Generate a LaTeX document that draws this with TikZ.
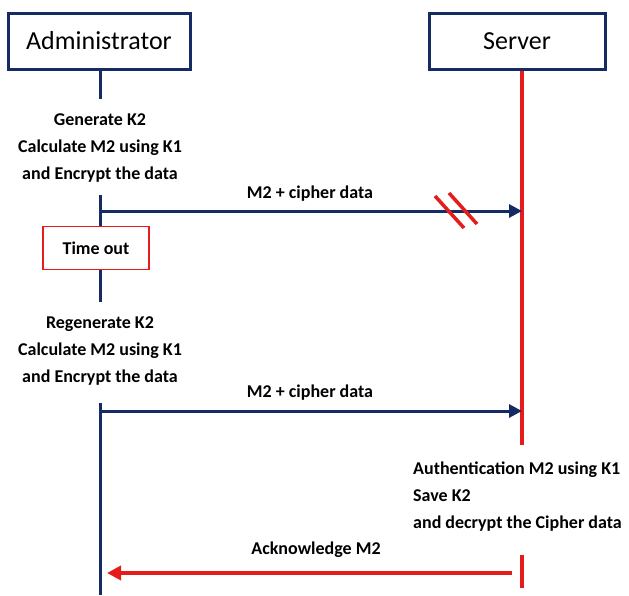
\documentclass[tikz,border=0pt]{standalone}
\usepackage{fontspec}
\setmainfont{Carlito}
\usetikzlibrary{arrows.meta}
\definecolor{navy}{RGB}{22,42,100}
\definecolor{myred}{RGB}{228,28,28}
\begin{document}
\begin{tikzpicture}[x=1pt,y=-1pt,
  actor/.style={draw=navy,line width=3pt,minimum width=#1,minimum height=56pt,inner sep=0pt,font=\fontsize{26}{30}\selectfont},
  note/.style={align=center,font=\bfseries\fontsize{18}{27}\selectfont,inner sep=0pt},
  lnote/.style={align=left,font=\bfseries\fontsize{18}{27}\selectfont,inner sep=0pt,anchor=west},
  lab/.style={font=\bfseries\fontsize{18}{21}\selectfont,inner sep=0pt},
  navyline/.style={draw=navy,line width=3pt},
  redline/.style={draw=myred,line width=3.5pt},
  msg/.style={navyline,-{Triangle[length=13pt,width=13pt]}},
  rmsg/.style={redline,-{Triangle[length=14pt,width=14pt]}}]
\useasboundingbox (0,0) rectangle (629,595);
% actors
\node[actor=182pt] (admin) at (99,41) {Administrator};
\node[actor=176pt] (server) at (517,41) {Server};
% notes
\node[note] (gen) at (100,148) {Generate K2\\Calculate M2 using K1\\and Encrypt the data};
\node[draw=myred,line width=1.6pt,minimum width=106pt,minimum height=43pt,inner sep=0pt,font=\bfseries\fontsize{18}{21}\selectfont] (timeout) at (96,248) {Time out};
\node[note] (regen) at (100,351) {Regenerate K2\\Calculate M2 using K1\\and Encrypt the data};
\node[lnote] (auth) at (413,497) {Authentication M2 using K1\\Save K2\\and decrypt the Cipher data};
% coordinates
\coordinate (a1) at (100,99);
\coordinate (a2) at (100,195);
\coordinate (a3) at (100,302);
\coordinate (a4) at (100,403);
\coordinate (a5) at (100,595);
\coordinate (s1) at (522,445);
\coordinate (s2) at (522,555);
\coordinate (s3) at (522,588);
\coordinate (m1s) at (100,211);
\coordinate (m1e) at (522,211);
\coordinate (m2s) at (100,411);
\coordinate (m2e) at (522,411);
\coordinate (m3s) at (512,573);
\coordinate (m3e) at (107,573);
\coordinate (b1s) at (435,196);
\coordinate (b1e) at (464,228);
\coordinate (b2s) at (449,193);
\coordinate (b2e) at (477,224);
% lifelines
\draw[navyline] (a1 |- admin.south) -- (a1);
\draw[navyline] (a2) -- (a2 |- timeout.north);
\draw[navyline] (a3 |- timeout.south) -- (a3);
\draw[navyline] (a4) -- (a5);
\draw[redline] (s1 |- server.south) -- (s1);
\draw[redline] (s2) -- (s3);
% messages
\draw[msg] (m1s) -- (m1e);
\node[lab] (l1) at (310,194) {M2 + cipher data};
\draw[redline] (b1s) -- (b1e);
\draw[redline] (b2s) -- (b2e);
\draw[msg] (m2s) -- (m2e);
\node[lab] (l2) at (310,393) {M2 + cipher data};
\draw[rmsg] (m3s) -- (m3e);
\node[lab] (l3) at (316,550) {Acknowledge M2};
\end{tikzpicture}
\end{document}
